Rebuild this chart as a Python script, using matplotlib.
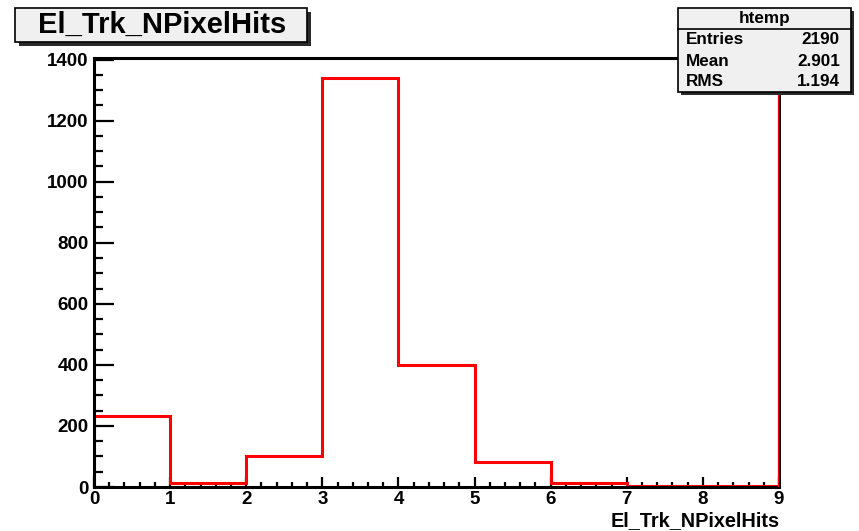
import numpy as np
import matplotlib
matplotlib.use("Agg")
import matplotlib.pyplot as plt
from matplotlib.patches import Rectangle
from matplotlib.ticker import MultipleLocator

# histogram of El_Trk_NPixelHits (one bin per integer hit count)
bin_edges = [0, 1, 2, 3, 4, 5, 6, 7, 8, 9]
bin_counts = [233, 14, 101, 1340, 400, 82, 13, 4, 3]

hist_name = "htemp"
var_name = "El_Trk_NPixelHits"
stat_labels = ["Entries", "Mean", "RMS"]
stat_values = ["2190", "2.901", "1.194"]

plt.rcParams['font.family'] = ['Liberation Sans', 'DejaVu Sans']
plt.rcParams['font.weight'] = 'bold'

W, H = 859, 531
fig = plt.figure(figsize=(W / 100, H / 100), dpi=100)

# frame in pixels: left 94, right 779, top 58, bottom 487
ax = fig.add_axes([94 / W, 1 - 487 / H, (779 - 94) / W, (487 - 58) / H])
ax.stairs(bin_counts, bin_edges, color='red', lw=2.2, zorder=2)
ax.set_xlim(bin_edges[0], bin_edges[-1])
ax.set_ylim(0, 1405)

ax.xaxis.set_major_locator(MultipleLocator(1))
ax.xaxis.set_minor_locator(MultipleLocator(0.2))
ax.yaxis.set_major_locator(MultipleLocator(200))
ax.yaxis.set_minor_locator(MultipleLocator(50))
ax.tick_params(axis='x', which='major', direction='in', length=7.2, width=1.6,
               labelsize=13.5, pad=3, top=False)
ax.tick_params(axis='x', which='minor', direction='in', length=3.5, width=1.6, top=False)
ax.tick_params(axis='y', which='major', direction='in', length=14.4, width=1.6,
               labelsize=13.5, pad=4, right=False)
ax.tick_params(axis='y', which='minor', direction='in', length=6.5, width=1.6, right=False)
for lbl in ax.get_xticklabels() + ax.get_yticklabels():
    lbl.set_fontweight('bold')
for s in ax.spines.values():
    s.set_linewidth(2.2)
    s.set_zorder(3)
# ROOT draws the last bin edge up to the frame; keep it just inside the black border
ax.axvline(bin_edges[-1], color='red', lw=1.6, zorder=4)

# overlay in pixel coordinates for the title and stats boxes
ov = fig.add_axes([0, 0, 1, 1], facecolor='none')
ov.set_xlim(0, W)
ov.set_ylim(H, 0)
ov.axis('off')

# title box with shadow
ov.add_patch(Rectangle((19, 12), 292, 34, facecolor='#2a2a2a', edgecolor='none'))
ov.add_patch(Rectangle((15, 8), 292, 34, facecolor='#f0f0f0', edgecolor='black', lw=1.2))
ov.text(162, 25, var_name, ha='center', va='center', fontsize=21, fontweight='bold')

# stats box with shadow
bx, by, bw, bh = 678, 8, 173, 84
ov.add_patch(Rectangle((bx + 3, by + 3), bw, bh, facecolor='#2a2a2a', edgecolor='none'))
ov.add_patch(Rectangle((bx, by), bw, bh, facecolor='#f0f0f0', edgecolor='black', lw=1.2))
ov.plot([bx, bx + bw], [29, 29], color='black', lw=1.2)
ov.text(bx + bw / 2, 19, hist_name, ha='center', va='center', fontsize=12.3, fontweight='bold')
for i, (lab, val) in enumerate(zip(stat_labels, stat_values)):
    yy = 40 + i * 21
    ov.text(686, yy, lab, ha='left', va='center', fontsize=12.3, fontweight='bold')
    ov.text(840, yy, val, ha='right', va='center', fontsize=12.3, fontweight='bold')

# x-axis title, right aligned under the frame
ov.text(780, 521, var_name, ha='right', va='center', fontsize=14.3, fontweight='bold')

fig.savefig("out.png", dpi=100, facecolor='white')
